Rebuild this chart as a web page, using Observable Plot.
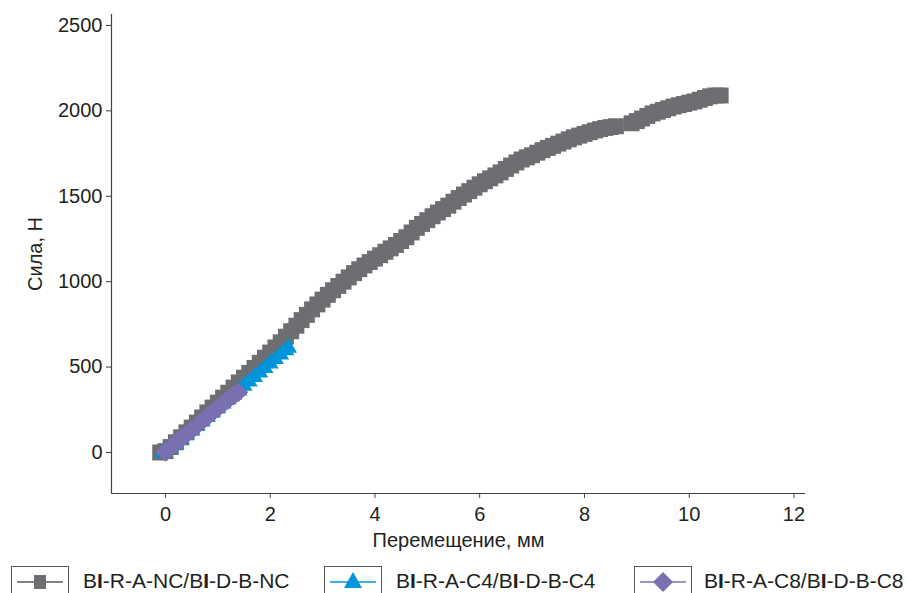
<!DOCTYPE html>
<html>
<head>
<meta charset="utf-8">
<script src="https://cdn.jsdelivr.net/npm/d3@7"></script>
<script src="https://cdn.jsdelivr.net/npm/@observablehq/plot@0.6"></script>
<style>
  html, body { margin: 0; padding: 0; background: #fff; overflow: hidden; }
  body { font-family: "Liberation Sans", Arial, sans-serif; color: #231f20; }
  #legend { position: relative; width: 907px; height: 33px; }
  .box { position: absolute; top: 6px; width: 58px; height: 32px; border: 1px solid #58595b; box-sizing: border-box; }
  .box svg { display: block; }
  .lab { position: absolute; top: 10px; font-size: 21px; line-height: 21px; white-space: nowrap; }
  .lab b { font-weight: 700; }
</style>
</head>
<body>
<div id="chart"></div>
<div id="legend">
  <div class="box" style="left:11px"><svg width="56" height="30"><line x1="5" x2="51" y1="15" y2="15" stroke="#58595b" stroke-width="1.6"/><rect x="22" y="8" width="12" height="14" fill="#6d6e71"/></svg></div>
  <div class="lab" style="left:83px">B<b>I</b>-R-A-NC/B<b>I</b>-D-B-NC</div>
  <div class="box" style="left:324px"><svg width="56" height="30"><line x1="5" x2="51" y1="15" y2="15" stroke="#0095da" stroke-width="1.6"/><path d="M28,5 L37,21 L19,21 Z" fill="#0095da"/></svg></div>
  <div class="lab" style="left:396px">B<b>I</b>-R-A-C4/B<b>I</b>-D-B-C4</div>
  <div class="box" style="left:634px"><svg width="56" height="30"><line x1="5" x2="51" y1="15" y2="15" stroke="#7a6fb0" stroke-width="1.6"/><path d="M28,5 L38,15 L28,25 L18,15 Z" fill="#7a6fb0"/></svg></div>
  <div class="lab" style="left:704px">B<b>I</b>-R-A-C8/B<b>I</b>-D-B-C8</div>
</div>
<script>
// ---- data ----
const ncX = [-0.1, 0.0, 0.1, 0.2, 0.3, 0.4, 0.5, 0.6, 0.7, 0.8, 0.9, 1.0, 1.1, 1.2, 1.3, 1.4, 1.5, 1.6, 1.7, 1.8, 1.9,
  2.0, 2.1, 2.2, 2.3, 2.4, 2.5, 2.6, 2.7, 2.8, 2.9, 3.0, 3.1, 3.2, 3.3, 3.4, 3.5, 3.6, 3.7, 3.8, 3.9,
  4.0, 4.1, 4.2, 4.3, 4.4, 4.5, 4.6, 4.7, 4.8, 4.9, 5.0, 5.1, 5.2, 5.3, 5.4, 5.5, 5.6, 5.7, 5.8, 5.9,
  6.0, 6.1, 6.2, 6.3, 6.4, 6.5, 6.6, 6.7, 6.8, 6.9, 7.0, 7.1, 7.2, 7.3, 7.4, 7.5, 7.6, 7.7, 7.8, 7.9,
  8.0, 8.1, 8.2, 8.3, 8.4, 8.5, 8.6, 8.9, 9.0, 9.1, 9.2, 9.3, 9.4, 9.5, 9.6, 9.7, 9.8, 9.9,
  10.0, 10.1, 10.2, 10.3, 10.4, 10.5, 10.6];
const ncY = [0, 8, 32, 60, 89, 118, 146, 175, 205, 235, 263, 292, 321, 350, 380, 410, 438, 466, 495, 525, 555,
  585, 615, 645, 678, 710, 742, 775, 806, 838, 867, 895, 923, 950, 975, 1000, 1025, 1050, 1073, 1095, 1115,
  1135, 1155, 1175, 1195, 1215, 1238, 1260, 1288, 1315, 1338, 1360, 1383, 1405, 1425, 1445, 1468, 1490, 1510, 1530, 1550,
  1570, 1588, 1605, 1622, 1640, 1660, 1680, 1698, 1715, 1728, 1740, 1755, 1770, 1783, 1795, 1808, 1820, 1833, 1845, 1855,
  1865, 1875, 1885, 1893, 1900, 1905, 1910, 1927, 1940, 1955, 1970, 1985, 1995, 2005, 2015, 2025, 2033, 2040,
  2048, 2055, 2065, 2075, 2085, 2090, 2090];

const c4X = [-0.05, 0.1, 0.2, 0.3, 0.4, 0.5, 0.6, 0.7, 0.8, 0.9, 1.0, 1.1, 1.2, 1.3, 1.4, 1.5, 1.6, 1.7, 1.8, 1.9,
  2.0, 2.1, 2.2, 2.3, 2.35];
const c4Y = [0, 24, 50, 77, 103, 129, 156, 181, 207, 233, 259, 286, 311, 337, 363, 390, 415, 441, 468, 494,
  521, 547, 573, 598, 612];

const c8X = [0.0, 0.1, 0.2, 0.3, 0.4, 0.5, 0.6, 0.7, 0.8, 0.9, 1.0, 1.1, 1.2, 1.3, 1.39];
const c8Y = [5, 30, 55, 81, 107, 132, 158, 184, 209, 235, 260, 285, 310, 333, 352];

const xTicks = [0, 2, 4, 6, 8, 10, 12];
const yTicks = [0, 500, 1000, 1500, 2000, 2500];
const xDomain = [-1.03, 12.22];
const yDomain = [-240, 2564];

// ---- build tables ----
const nc = ncX.map((x, i) => ({x, y: ncY[i]}));
const c4 = c4X.map((x, i) => ({x, y: c4Y[i]}));
const c8 = c8X.map((x, i) => ({x, y: c8Y[i]}));

const GRAY = "#6d6e71", BLUE = "#0095da", PURPLE = "#7a6fb0";
const INK = "#231f20";
const plain = d => String(d);

const chart = Plot.plot({
  width: 907,
  height: 560,
  marginLeft: 111,
  marginRight: 102,
  marginTop: 14,
  marginBottom: 67,
  style: {fontFamily: "'Liberation Sans', Arial, sans-serif", fontSize: "20px", color: INK, background: "#fff", overflow: "visible"},
  x: {domain: xDomain},
  y: {domain: yDomain},
  marks: [
    Plot.ruleX([xDomain[0]], {stroke: "#414042", strokeWidth: 1.2}),
    Plot.ruleY([yDomain[0]], {stroke: "#414042", strokeWidth: 1.2}),
    Plot.axisX({ticks: xTicks, tickFormat: plain, tickSize: 5, tickPadding: 8, stroke: "#414042", fill: INK, fontSize: 20,
      label: "Перемещение, мм", labelAnchor: "center", labelOffset: 53, labelArrow: "none"}),
    Plot.axisY({ticks: yTicks, tickFormat: plain, tickSize: 5, tickPadding: 4, stroke: "#414042", fill: INK, fontSize: 20,
      label: "Сила, Н", labelAnchor: "center", labelOffset: 84, labelArrow: "none"}),
    Plot.line(nc, {x: "x", y: "y", stroke: GRAY, strokeWidth: 1}),
    Plot.dot(nc, {x: "x", y: "y", symbol: "square", r: 9, fill: GRAY, stroke: "none"}),
    Plot.line(c4, {x: "x", y: "y", stroke: BLUE, strokeWidth: 1}),
    Plot.dot(c4, {x: "x", y: "y", symbol: "triangle", r: 6.3, fill: BLUE, stroke: "none"}),
    Plot.line(c8, {x: "x", y: "y", stroke: PURPLE, strokeWidth: 1}),
    Plot.dot(c8, {x: "x", y: "y", symbol: "diamond2", r: 9, fill: PURPLE, stroke: "none"})
  ]
});
document.getElementById("chart").appendChild(chart);
</script>
</body>
</html>
